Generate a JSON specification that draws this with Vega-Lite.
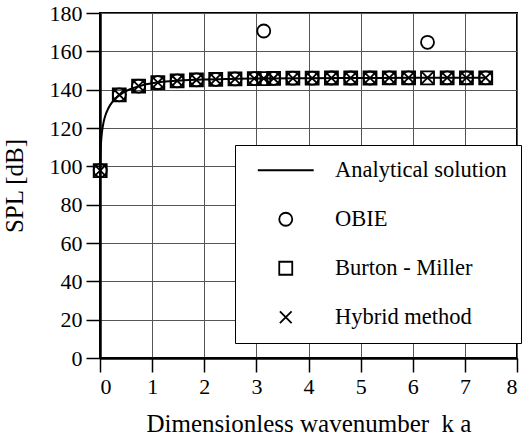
{
  "$schema": "https://vega.github.io/schema/vega-lite/v6.json",
  "width": 417,
  "height": 345,
  "autosize": {"type": "none"},
  "padding": {"left": 100, "top": 13, "right": 5, "bottom": 85},
  "background": "white",
  "datasets": {
    "analytic": [
      {"ka": 0.0038, "spl": 97.8},
      {"ka": 0.01, "spl": 106.3},
      {"ka": 0.02, "spl": 112.3},
      {"ka": 0.04, "spl": 118.3},
      {"ka": 0.07, "spl": 123.2},
      {"ka": 0.1, "spl": 126.3},
      {"ka": 0.15, "spl": 129.7},
      {"ka": 0.2, "spl": 132.2},
      {"ka": 0.3, "spl": 135.5},
      {"ka": 0.4, "spl": 137.7},
      {"ka": 0.5, "spl": 139.3},
      {"ka": 0.6, "spl": 140.5},
      {"ka": 0.8, "spl": 142.2},
      {"ka": 1.0, "spl": 143.3},
      {"ka": 1.25, "spl": 144.2},
      {"ka": 1.5, "spl": 144.7},
      {"ka": 2.0, "spl": 145.3},
      {"ka": 2.5, "spl": 145.6},
      {"ka": 3.0, "spl": 145.8},
      {"ka": 4.0, "spl": 146.0},
      {"ka": 5.0, "spl": 146.1},
      {"ka": 6.0, "spl": 146.2},
      {"ka": 7.4, "spl": 146.2}
    ],
    "numeric": [
      {"ka": 0.0038, "spl": 97.8, "method": "OBIE"},
      {"ka": 0.37, "spl": 137.3, "method": "OBIE"},
      {"ka": 0.74, "spl": 141.9, "method": "OBIE"},
      {"ka": 1.11, "spl": 143.7, "method": "OBIE"},
      {"ka": 1.48, "spl": 144.6, "method": "OBIE"},
      {"ka": 1.85, "spl": 145.1, "method": "OBIE"},
      {"ka": 2.22, "spl": 145.4, "method": "OBIE"},
      {"ka": 2.59, "spl": 145.6, "method": "OBIE"},
      {"ka": 2.96, "spl": 145.8, "method": "OBIE"},
      {"ka": 3.1416, "spl": 170.6, "method": "OBIE"},
      {"ka": 3.33, "spl": 145.9, "method": "OBIE"},
      {"ka": 3.70, "spl": 146.0, "method": "OBIE"},
      {"ka": 4.07, "spl": 146.0, "method": "OBIE"},
      {"ka": 4.44, "spl": 146.1, "method": "OBIE"},
      {"ka": 4.81, "spl": 146.1, "method": "OBIE"},
      {"ka": 5.18, "spl": 146.1, "method": "OBIE"},
      {"ka": 5.55, "spl": 146.2, "method": "OBIE"},
      {"ka": 5.92, "spl": 146.2, "method": "OBIE"},
      {"ka": 6.2832, "spl": 164.7, "method": "OBIE"},
      {"ka": 6.66, "spl": 146.2, "method": "OBIE"},
      {"ka": 7.03, "spl": 146.2, "method": "OBIE"},
      {"ka": 7.40, "spl": 146.2, "method": "OBIE"},
      {"ka": 0.0038, "spl": 97.8, "method": "Burton - Miller"},
      {"ka": 0.37, "spl": 137.3, "method": "Burton - Miller"},
      {"ka": 0.74, "spl": 141.9, "method": "Burton - Miller"},
      {"ka": 1.11, "spl": 143.7, "method": "Burton - Miller"},
      {"ka": 1.48, "spl": 144.6, "method": "Burton - Miller"},
      {"ka": 1.85, "spl": 145.1, "method": "Burton - Miller"},
      {"ka": 2.22, "spl": 145.4, "method": "Burton - Miller"},
      {"ka": 2.59, "spl": 145.6, "method": "Burton - Miller"},
      {"ka": 2.96, "spl": 145.8, "method": "Burton - Miller"},
      {"ka": 3.1416, "spl": 145.8, "method": "Burton - Miller"},
      {"ka": 3.33, "spl": 145.9, "method": "Burton - Miller"},
      {"ka": 3.70, "spl": 146.0, "method": "Burton - Miller"},
      {"ka": 4.07, "spl": 146.0, "method": "Burton - Miller"},
      {"ka": 4.44, "spl": 146.1, "method": "Burton - Miller"},
      {"ka": 4.81, "spl": 146.1, "method": "Burton - Miller"},
      {"ka": 5.18, "spl": 146.1, "method": "Burton - Miller"},
      {"ka": 5.55, "spl": 146.2, "method": "Burton - Miller"},
      {"ka": 5.92, "spl": 146.2, "method": "Burton - Miller"},
      {"ka": 6.2832, "spl": 146.2, "method": "Burton - Miller"},
      {"ka": 6.66, "spl": 146.2, "method": "Burton - Miller"},
      {"ka": 7.03, "spl": 146.2, "method": "Burton - Miller"},
      {"ka": 7.40, "spl": 146.2, "method": "Burton - Miller"},
      {"ka": 0.0038, "spl": 97.8, "method": "Hybrid method"},
      {"ka": 0.37, "spl": 137.3, "method": "Hybrid method"},
      {"ka": 0.74, "spl": 141.9, "method": "Hybrid method"},
      {"ka": 1.11, "spl": 143.7, "method": "Hybrid method"},
      {"ka": 1.48, "spl": 144.6, "method": "Hybrid method"},
      {"ka": 1.85, "spl": 145.1, "method": "Hybrid method"},
      {"ka": 2.22, "spl": 145.4, "method": "Hybrid method"},
      {"ka": 2.59, "spl": 145.6, "method": "Hybrid method"},
      {"ka": 2.96, "spl": 145.8, "method": "Hybrid method"},
      {"ka": 3.1416, "spl": 145.8, "method": "Hybrid method"},
      {"ka": 3.33, "spl": 145.9, "method": "Hybrid method"},
      {"ka": 3.70, "spl": 146.0, "method": "Hybrid method"},
      {"ka": 4.07, "spl": 146.0, "method": "Hybrid method"},
      {"ka": 4.44, "spl": 146.1, "method": "Hybrid method"},
      {"ka": 4.81, "spl": 146.1, "method": "Hybrid method"},
      {"ka": 5.18, "spl": 146.1, "method": "Hybrid method"},
      {"ka": 5.55, "spl": 146.2, "method": "Hybrid method"},
      {"ka": 5.92, "spl": 146.2, "method": "Hybrid method"},
      {"ka": 6.2832, "spl": 146.2, "method": "Hybrid method"},
      {"ka": 6.66, "spl": 146.2, "method": "Hybrid method"},
      {"ka": 7.03, "spl": 146.2, "method": "Hybrid method"},
      {"ka": 7.40, "spl": 146.2, "method": "Hybrid method"}
    ]
  },
  "layer": [
    {
      "data": {"name": "analytic"},
      "mark": {"type": "line", "color": "black", "strokeWidth": 2, "interpolate": "monotone", "clip": true},
      "encoding": {
        "x": {"field": "ka", "type": "quantitative"},
        "y": {"field": "spl", "type": "quantitative"}
      }
    },
    {
      "data": {"name": "numeric"},
      "mark": {"type": "point", "filled": false, "color": "black", "strokeWidth": 1.8, "size": 169, "opacity": 1},
      "encoding": {
        "x": {"field": "ka", "type": "quantitative"},
        "y": {"field": "spl", "type": "quantitative"},
        "shape": {
          "field": "method",
          "type": "nominal",
          "scale": {
            "domain": ["Analytical solution", "OBIE", "Burton - Miller", "Hybrid method"],
            "range": ["M-4.3,0L4.3,0", "circle", "square", "M-0.9,-0.9L0.9,0.9M0.9,-0.9L-0.9,0.9"]
          },
          "legend": {
            "title": null,
            "orient": "none",
            "legendX": 135,
            "legendY": 132,
            "padding": 14,
            "rowPadding": 26,
            "symbolOffset": 25.5,
            "labelOffset": 38,
            "symbolSize": 169,
            "symbolStrokeWidth": 1.8,
            "symbolStrokeColor": "black",
            "symbolFillColor": "transparent",
            "labelFont": "Liberation Serif",
            "labelFontSize": 22.5,
            "labelColor": "black",
            "labelLimit": 400,
            "fillColor": "white",
            "strokeColor": "black",
            "encode": {"legend": {"update": {"strokeWidth": {"value": 2}}}}
          }
        }
      }
    }
  ],
  "encoding": {
    "x": {
      "field": "ka",
      "type": "quantitative",
      "scale": {"domain": [0, 8], "nice": false},
      "axis": {
        "title": "Dimensionless wavenumber\u00a0\u00a0k a",
        "values": [0, 1, 2, 3, 4, 5, 6, 7, 8],
        "titlePadding": 14
      }
    },
    "y": {
      "field": "spl",
      "type": "quantitative",
      "scale": {"domain": [0, 180], "nice": false},
      "axis": {
        "title": "SPL [dB]",
        "values": [0, 20, 40, 60, 80, 100, 120, 140, 160, 180],
        "titlePadding": 22
      }
    }
  },
  "config": {
    "view": {"stroke": "black", "strokeWidth": 2},
    "axis": {
      "grid": true,
      "gridColor": "#555555",
      "gridWidth": 1,
      "gridOpacity": 1,
      "domainColor": "black",
      "domainWidth": 2.5,
      "tickColor": "black",
      "tickWidth": 1.5,
      "tickSize": 14,
      "labelFont": "Liberation Serif",
      "labelFontSize": 22,
      "labelColor": "black",
      "labelPadding": 4,
      "titleFont": "Liberation Serif",
      "titleFontSize": 25,
      "titleFontWeight": "normal",
      "titleColor": "black"
    }
  }
}
